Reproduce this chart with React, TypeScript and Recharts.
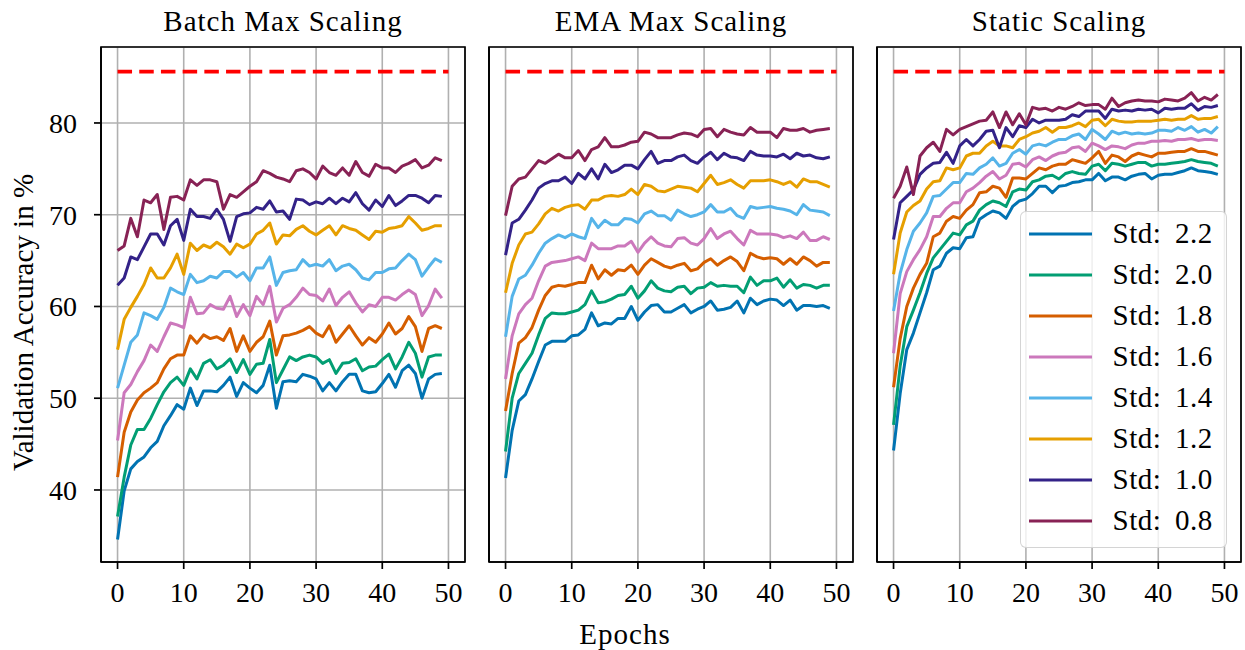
import React from 'react';
import { LineChart, Line, XAxis, YAxis, CartesianGrid, ReferenceLine, ReferenceArea, Legend } from 'recharts';

const FONT = '"Liberation Serif", "Times New Roman", serif';

const stdLabels = ['Std: 2.2', 'Std: 2.0', 'Std: 1.8', 'Std: 1.6', 'Std: 1.4', 'Std: 1.2', 'Std: 1.0', 'Std: 0.8'];
const seriesKeys = ['s22', 's20', 's18', 's16', 's14', 's12', 's10', 's08'];
const colors = ['#0173B2', '#029E73', '#D55E00', '#CC78BC', '#56B4E9', '#E69F00', '#332288', '#882255'];
const panelTitles = ['Batch Max Scaling', 'EMA Max Scaling', 'Static Scaling'];
const xTicks = [0, 10, 20, 30, 40, 50];
const yTicks = [40, 50, 60, 70, 80];
const baselineAccuracy = 85.6;
const baselineStart = 0;
const baselineEnd = 50;

// Batch Max Scaling
const batch22 = [34.6,39.9,42.3,43.1,43.6,44.6,45.3,47.0,48.1,49.3,48.8,51.1,49.2,50.8,50.8,50.7,51.4,52.3,50.2,51.7,51.1,50.6,51.4,53.6,48.9,51.8,51.9,51.8,52.6,52.4,52.1,50.8,51.7,50.8,51.8,52.6,52.6,50.8,50.6,50.7,51.6,52.6,51.2,53.0,53.6,52.7,50.0,52.1,52.6,52.7];
const batch20 = [37.1,41.4,44.9,46.6,46.6,47.8,49.3,50.7,51.7,52.3,51.4,53.2,52.1,53.8,54.2,53.2,53.6,54.3,52.8,54.2,52.6,53.7,53.8,56.4,51.7,53.1,54.5,54.1,54.5,54.7,54.5,53.8,54.2,52.7,53.8,53.9,54.3,53.0,53.4,53.5,54.2,54.8,53.2,54.5,56.1,54.9,52.3,54.5,54.7,54.7];
const batch18 = [41.4,46.3,48.5,49.8,50.6,51.1,51.7,53.2,54.3,54.7,54.7,56.8,56.0,56.9,56.5,56.7,56.3,57.6,55.1,56.8,55.1,56.1,56.7,58.4,54.7,56.8,56.9,57.1,57.4,57.8,57.1,56.7,57.9,56.1,57.0,57.9,56.8,55.8,56.6,56.1,57.0,58.2,57.0,57.6,58.9,57.8,55.1,57.6,57.9,57.6];
const batch16 = [45.4,50.6,51.5,52.9,54.1,55.8,55.1,56.7,58.2,58.0,57.7,61.0,59.2,59.3,60.2,59.8,59.7,61.1,58.9,60.2,59.0,61.1,60.2,62.2,58.3,59.8,60.2,61.0,62.0,61.3,61.2,60.6,61.9,60.1,61.0,61.6,60.4,59.4,60.2,60.0,61.0,61.0,60.7,61.3,61.8,61.3,59.0,60.1,61.9,60.9];
const batch14 = [51.1,53.6,56.1,56.9,59.3,59.0,58.6,59.9,62.0,61.6,61.3,63.5,62.6,62.8,63.3,63.1,63.8,63.8,63.2,63.7,62.8,64.2,64.2,65.4,62.3,63.7,63.9,64.0,65.1,64.4,64.6,64.4,65.1,63.9,64.4,64.6,64.0,63.1,62.9,63.7,63.7,64.1,64.2,65.0,65.7,65.1,63.3,64.3,65.2,64.8];
const batch12 = [55.3,58.6,59.9,61.1,62.4,64.2,63.1,63.1,64.2,65.7,63.5,66.9,66.1,66.7,66.4,67.0,66.5,65.7,66.8,66.4,66.8,67.9,68.3,69.1,66.8,67.8,67.7,68.4,68.8,68.2,67.8,68.3,68.8,67.8,68.8,68.5,68.3,67.8,67.3,68.2,68.1,68.5,68.6,68.8,69.8,69.1,68.3,68.5,68.8,68.8];
const batch10 = [62.3,63.1,65.4,65.1,66.5,67.9,67.9,66.7,68.8,69.5,67.2,70.6,69.8,69.8,69.6,70.6,69.5,67.1,69.8,70.1,70.2,70.8,70.6,71.5,70.3,70.4,69.5,71.7,71.6,71.1,71.4,71.2,71.8,71.2,71.8,71.4,72.4,71.2,70.5,71.6,70.9,72.1,71.0,71.5,72.1,72.1,71.8,71.3,72.1,72.0];
const batch08 = [66.1,66.6,69.6,67.6,71.6,71.3,72.2,68.4,71.9,72.0,71.6,73.8,73.2,73.8,73.8,73.6,70.6,72.2,71.9,72.5,73.1,73.6,74.8,74.5,74.1,73.9,73.6,74.8,75.0,74.6,73.9,75.3,74.6,74.3,75.1,74.3,75.8,74.6,74.2,75.5,75.1,75.1,74.6,75.3,75.6,76.0,75.1,75.4,76.2,75.9];

// EMA Max Scaling
const ema22 = [41.3,46.5,49.7,50.4,52.1,54.0,55.8,56.2,56.2,56.2,56.8,56.9,57.5,59.3,57.9,58.2,58.1,58.7,58.7,60.0,58.5,59.4,60.1,60.2,59.4,59.4,59.8,60.2,59.3,59.7,60.0,60.6,59.6,59.7,59.9,60.6,59.3,60.9,60.2,60.6,60.8,60.7,60.1,60.7,59.6,60.1,60.1,60.0,60.1,59.8];
const ema20 = [44.2,50.0,52.7,53.8,54.9,56.9,58.7,59.3,59.2,59.2,59.4,59.6,60.2,61.7,60.4,60.5,60.8,61.2,61.3,62.2,60.9,61.7,62.8,62.0,61.7,61.6,62.1,62.2,61.4,62.0,62.1,62.6,62.2,62.3,62.2,62.2,61.5,63.2,62.3,62.8,62.8,63.1,62.1,62.9,62.0,62.4,62.3,62.0,62.3,62.3];
const ema18 = [48.6,52.7,56.0,56.6,57.7,59.6,61.2,62.1,62.3,62.2,62.4,62.6,62.6,64.5,63.0,64.0,63.4,64.0,63.9,64.5,63.5,64.5,65.2,64.8,64.4,64.2,64.5,64.7,63.9,64.1,64.8,65.2,64.5,65.0,65.4,64.9,63.9,65.8,65.4,65.2,65.3,65.2,64.6,65.2,64.6,65.4,65.0,64.4,64.8,64.8];
const ema16 = [52.1,56.8,59.2,60.2,60.9,62.8,64.4,64.8,64.9,65.0,65.2,65.4,65.0,66.9,66.3,66.3,66.3,66.6,66.6,67.1,65.9,66.9,67.6,66.9,66.6,66.5,67.4,67.5,66.9,66.7,67.4,68.5,67.4,67.9,68.2,67.4,66.7,68.3,67.9,67.9,67.9,67.8,67.5,67.7,67.4,68.1,67.2,67.2,67.6,67.3];
const ema14 = [56.7,61.1,63.0,63.4,64.5,65.8,66.9,67.4,67.8,67.5,67.9,67.6,67.4,69.6,68.6,69.4,68.9,68.9,69.6,69.5,69.1,70.1,70.4,69.9,69.9,69.4,70.5,70.1,69.8,70.0,70.3,71.1,70.3,70.3,70.7,69.9,69.6,70.9,70.7,70.8,70.9,70.7,70.6,70.4,70.0,71.1,70.5,70.4,70.3,69.9];
const ema12 = [61.5,64.7,66.7,67.9,68.1,69.0,70.1,70.7,70.4,70.8,71.0,71.1,70.6,71.6,71.6,72.0,72.1,72.0,72.2,72.8,72.2,73.3,73.1,72.6,72.5,72.8,73.1,73.0,72.9,72.5,73.4,74.3,73.3,73.5,73.8,73.3,72.9,73.7,73.7,73.7,73.8,73.6,73.3,73.6,73.0,73.9,73.6,73.6,73.3,73.0];
const ema10 = [65.6,69.1,69.5,70.5,71.6,72.9,73.4,73.7,73.7,74.1,73.4,74.5,73.9,75.0,73.9,75.5,74.6,74.9,75.4,75.4,75.0,76.0,76.9,75.6,75.9,75.9,76.3,76.5,75.9,75.6,76.3,76.8,76.0,76.7,76.3,76.2,75.9,76.9,76.5,76.4,76.4,76.3,76.6,76.1,76.7,76.4,76.5,76.2,76.1,76.3];
const ema08 = [69.9,73.1,73.9,74.1,75.0,75.9,75.6,76.1,76.6,76.2,76.2,77.0,75.9,77.1,77.4,78.4,77.4,77.4,77.6,77.9,78.0,79.0,78.8,78.4,78.4,78.4,78.7,78.9,78.8,78.5,79.3,79.4,78.5,79.3,79.0,78.8,78.7,79.5,79.0,79.0,79.0,78.4,79.4,79.2,79.2,79.4,79.0,79.2,79.3,79.4];

// Static Scaling
const static22 = [44.3,50.5,55.3,57.1,59.3,61.5,64.0,64.4,65.8,66.4,66.3,67.5,67.6,69.5,70.0,70.4,70.2,69.6,70.9,71.5,71.7,72.3,73.1,73.1,72.4,73.1,73.2,73.5,73.6,73.8,73.8,74.5,73.7,74.1,74.1,73.8,74.2,74.4,74.5,73.9,74.3,74.4,74.4,74.6,74.8,75.1,74.8,74.7,74.6,74.4];
const static20 = [47.1,53.5,57.8,59.6,61.5,63.6,65.3,66.2,67.1,68.0,67.8,68.9,69.3,70.5,71.1,71.5,71.3,70.9,72.5,72.8,72.7,73.6,73.8,74.2,74.3,73.9,74.5,74.7,74.5,74.4,75.3,75.5,74.8,75.6,75.5,75.3,75.5,75.7,75.7,75.3,75.5,75.5,75.6,75.7,75.8,76.0,75.8,75.7,75.6,75.3];
const static18 = [51.2,56.5,60.0,62.0,63.5,64.7,67.6,68.0,69.3,69.8,69.6,70.5,71.1,72.4,72.5,73.1,72.9,71.9,74.0,74.0,73.9,74.5,75.1,74.9,75.3,75.5,75.5,76.0,75.8,75.6,76.2,76.9,75.6,76.5,76.3,75.8,76.4,76.7,76.5,76.3,76.7,76.7,76.8,76.9,76.9,77.2,76.9,76.9,76.7,76.5];
const static16 = [54.9,61.4,63.8,65.1,66.2,67.6,69.8,69.8,70.7,71.3,71.3,72.5,72.9,73.5,74.2,74.7,73.9,74.3,75.5,75.6,75.2,76.0,76.3,75.9,76.4,76.7,76.8,77.3,77.4,76.9,77.8,77.5,77.1,77.5,77.4,77.2,77.6,77.8,77.8,78.0,78.0,78.1,78.0,78.2,78.2,78.3,78.1,78.2,78.2,78.1];
const static14 = [59.5,63.6,66.2,68.2,69.1,70.2,72.0,72.1,72.8,73.5,73.5,74.5,74.4,75.1,75.5,76.2,75.3,75.6,76.7,77.1,76.6,77.5,77.7,77.5,77.9,78.2,78.2,78.6,78.8,78.2,79.3,78.8,78.2,79.1,78.8,79.0,78.8,78.9,78.8,78.9,79.2,79.2,79.1,79.5,79.2,79.6,79.0,79.3,78.9,79.6];
const static12 = [63.5,68.0,70.3,71.0,71.5,72.8,73.6,73.7,75.1,74.9,75.1,76.4,76.7,76.7,77.5,78.0,77.5,77.5,77.3,78.2,78.5,78.9,79.1,79.5,79.0,79.5,79.5,79.7,80.0,79.6,80.3,80.4,79.7,80.4,80.2,80.1,80.1,80.2,80.2,80.2,80.3,80.4,80.3,80.4,80.4,80.8,80.4,80.5,80.5,80.7];
const static10 = [67.3,71.3,72.0,72.7,74.4,75.1,75.6,75.7,76.8,75.6,77.5,78.2,77.5,78.2,79.1,79.2,77.3,79.5,78.5,79.7,79.5,80.4,80.0,80.3,80.3,80.3,80.4,80.9,80.7,81.3,81.3,81.3,80.5,81.5,81.3,81.4,81.3,81.5,81.4,81.5,81.1,81.6,81.5,81.6,81.6,82.1,81.4,81.8,81.7,81.9];
const static08 = [71.8,73.1,75.2,72.2,76.4,77.3,77.9,76.9,79.3,78.7,79.3,79.6,79.9,80.2,80.3,81.2,79.5,81.2,79.8,81.0,79.8,81.7,81.5,81.6,81.3,81.7,81.5,81.8,82.2,81.9,82.0,82.0,81.5,82.7,81.8,82.2,82.4,82.5,82.4,82.4,82.3,82.6,82.5,82.4,82.7,83.3,82.4,82.8,82.5,83.1];

const buildRows = (series: number[][]) =>
  series[0].map((_, i) => {
    const row: Record<string, number> = { epoch: i };
    seriesKeys.forEach((k, j) => {
      row[k] = series[j][i];
    });
    return row;
  });

const panelRows = [
  buildRows([batch22, batch20, batch18, batch16, batch14, batch12, batch10, batch08]),
  buildRows([ema22, ema20, ema18, ema16, ema14, ema12, ema10, ema08]),
  buildRows([static22, static20, static18, static16, static14, static12, static10, static08]),
];

const X_DOMAIN: [number, number] = [-2.5, 52.5];
const Y_DOMAIN: [number, number] = [32.15, 88.28];
const H = 650;
const PLOT_W = 364;

const panels = [
  { left: 0, width: 471, yAxisWidth: 101, right: 6, labels: true, legend: false },
  { left: 471, width: 388, yAxisWidth: 18, right: 6, labels: false, legend: false },
  { left: 859, width: 386, yAxisWidth: 18, right: 4, labels: false, legend: true },
];

const LegendBox = () => (
  <div
    style={{
      width: 207,
      height: 337,
      boxSizing: 'border-box',
      background: 'rgba(255,255,255,0.8)',
      border: '1.5px solid rgba(204,204,204,0.85)',
      borderRadius: 6,
      paddingTop: 1,
      paddingLeft: 7.5,
      fontFamily: FONT,
      fontSize: 29,
      color: '#000',
    }}
  >
    {stdLabels.map((lab, i) => (
      <div key={lab} style={{ height: 41, display: 'flex', alignItems: 'center' }}>
        <svg width={63} height={6} style={{ display: 'block', flex: 'none' }}>
          <line x1={0} y1={3} x2={63} y2={3} stroke={colors[i]} strokeWidth={3} />
        </svg>
        <span style={{ marginLeft: 21, letterSpacing: 0.5, wordSpacing: 6, lineHeight: '41px' }}>{lab}</span>
      </div>
    ))}
  </div>
);

const axisStroke = { stroke: '#000', strokeWidth: 1.7 };

export default function App() {
  return (
    <div style={{ position: 'absolute', left: 0, top: 0, width: 1245, height: H, background: '#fff', overflow: 'hidden' }}>
      {panels.map((p, idx) => (
        <div key={idx} style={{ position: 'absolute', left: p.left, top: 0, width: p.width, height: H }}>
          <LineChart
            width={p.width}
            height={H}
            data={panelRows[idx]}
            margin={{ top: 47, right: p.right, bottom: 28, left: 0 }}
          >
            <CartesianGrid stroke="#b0b0b0" strokeWidth={1.6} />
            <XAxis
              dataKey="epoch"
              type="number"
              domain={X_DOMAIN}
              ticks={xTicks}
              allowDataOverflow
              interval={0}
              height={60}
              tickSize={7}
              tickMargin={13}
              axisLine={axisStroke}
              tickLine={axisStroke}
              tick={{ fill: '#000', fontSize: 28, fontFamily: FONT }}
            />
            <YAxis
              type="number"
              domain={Y_DOMAIN}
              ticks={yTicks}
              allowDataOverflow
              interval={0}
              width={p.yAxisWidth}
              tickSize={7}
              tickMargin={17}
              axisLine={axisStroke}
              tickLine={axisStroke}
              tick={p.labels ? { fill: '#000', fontSize: 28, fontFamily: FONT } : false}
            />
            <ReferenceArea
              x1={X_DOMAIN[0]}
              x2={X_DOMAIN[1]}
              y1={Y_DOMAIN[0]}
              y2={Y_DOMAIN[1]}
              fill="none"
              fillOpacity={0}
              stroke="#000"
              strokeWidth={1.7}
              ifOverflow="visible"
            />
            <ReferenceLine
              segment={[
                { x: baselineStart, y: baselineAccuracy },
                { x: baselineEnd, y: baselineAccuracy },
              ]}
              stroke="#ff0000"
              strokeWidth={3.8}
              strokeDasharray="14.5 7.2"
              ifOverflow="visible"
            />
            {seriesKeys.map((k, i) => (
              <Line
                key={k}
                type="linear"
                dataKey={k}
                name={stdLabels[i]}
                stroke={colors[i]}
                strokeWidth={3}
                strokeLinejoin="round"
                dot={false}
                activeDot={false}
                isAnimationActive={false}
              />
            ))}
            {p.legend && (
              <Legend
                layout="vertical"
                verticalAlign="middle"
                align="center"
                content={() => <LegendBox />}
                wrapperStyle={{ left: 161, top: 211, width: 207, height: 337 }}
              />
            )}
          </LineChart>
          <div
            style={{
              position: 'absolute',
              left: p.yAxisWidth + PLOT_W / 2 - 200,
              top: 7,
              width: 400,
              textAlign: 'center',
              fontFamily: FONT,
              fontSize: 29,
              lineHeight: '29px',
              letterSpacing: 1,
              color: '#000',
              whiteSpace: 'nowrap',
            }}
          >
            {panelTitles[idx]}
          </div>
        </div>
      ))}
      <div
        style={{
          position: 'absolute',
          left: 425,
          top: 620,
          width: 400,
          textAlign: 'center',
          fontFamily: FONT,
          fontSize: 29,
          lineHeight: '29px',
          letterSpacing: 1,
          color: '#000',
        }}
      >
        Epochs
      </div>
      <div
        style={{
          position: 'absolute',
          left: 23 - 200,
          top: 322 - 14.5,
          width: 400,
          textAlign: 'center',
          fontFamily: FONT,
          fontSize: 29,
          lineHeight: '29px',
          color: '#000',
          transform: 'rotate(-90deg)',
          transformOrigin: '50% 50%',
          whiteSpace: 'nowrap',
        }}
      >
        Validation Accuracy in %
      </div>
    </div>
  );
}
